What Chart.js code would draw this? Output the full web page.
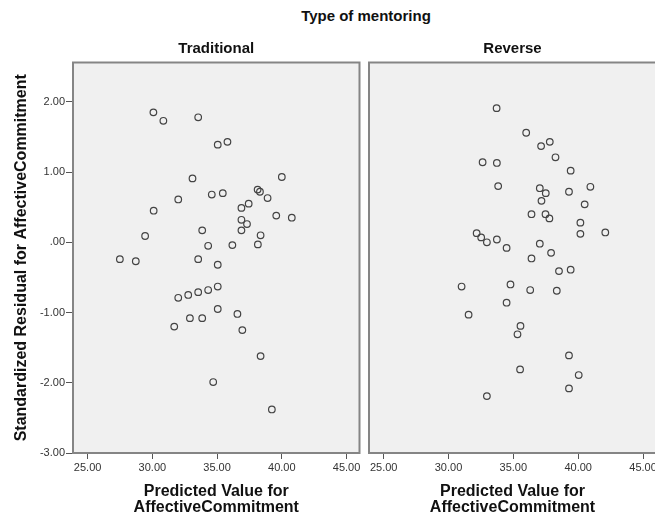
<!DOCTYPE html>
<html>
<head>
<meta charset="utf-8">
<script src="https://cdn.jsdelivr.net/npm/chart.js@4.4.1/dist/chart.umd.min.js"></script>
<style>
  html, body { margin: 0; padding: 0; background: #fff; overflow: hidden; }
  #wrap { position: relative; width: 655px; height: 517px; overflow: hidden; }
  #mainTitle {
    position: absolute; left: 0; width: 732px; top: 7px; text-align: center;
    font: bold 15px "Liberation Sans", Arial, sans-serif; color: #111;
  }
  #leftBox { position: absolute; left: 0; top: 0; width: 364px; height: 517px; }
  #rightBox { position: absolute; left: 362px; top: 0; width: 300px; height: 517px; }
</style>
</head>
<body>
<div id="wrap">
  <div id="mainTitle">Type of mentoring</div>
  <div id="leftBox"><canvas id="leftChart" width="364" height="517"></canvas></div>
  <div id="rightBox"><canvas id="rightChart" width="300" height="517"></canvas></div>
</div>
<script>
// ticks
const xTicks = [25, 30, 35, 40, 45];
const yTicks = [-3, -2, -1, 0, 1, 2];

// Traditional mentoring: predicted value / standardized residual
const tradX = [30.08, 30.85, 33.54, 35.05, 35.80, 33.10, 40.00, 32.00, 34.59, 35.44,
  38.13, 38.31, 38.90, 37.44, 36.88, 30.10, 39.57, 40.77, 36.88, 37.31,
  36.88, 33.85, 38.36, 29.44, 34.31, 36.18, 38.15, 27.49, 28.72, 33.54,
  35.05, 32.00, 32.77, 33.54, 34.31, 35.05, 35.05, 36.57, 32.90, 33.85,
  31.69, 36.95, 38.36, 34.70, 39.23];
const tradY = [1.85, 1.73, 1.78, 1.39, 1.43, 0.91, 0.93, 0.61, 0.68, 0.70,
  0.75, 0.72, 0.63, 0.55, 0.49, 0.45, 0.38, 0.35, 0.32, 0.26,
  0.17, 0.17, 0.10, 0.09, -0.05, -0.04, -0.03, -0.24, -0.27, -0.24,
  -0.32, -0.79, -0.75, -0.71, -0.68, -0.63, -0.95, -1.02, -1.08, -1.08,
  -1.20, -1.25, -1.62, -1.99, -2.38];

// Reverse mentoring
const revX = [33.71, 35.99, 37.14, 37.81, 38.25, 32.63, 33.73, 39.42, 33.83, 37.04,
  37.50, 37.17, 39.29, 40.94, 40.50, 36.40, 37.48, 37.78, 40.17, 32.17,
  32.52, 32.96, 33.73, 40.17, 42.09, 34.48, 37.04, 37.91, 36.40, 38.52,
  39.42, 31.01, 34.78, 36.30, 38.35, 34.48, 31.55, 35.55, 35.32, 39.29,
  35.52, 40.04, 39.29, 32.96];
const revY = [1.91, 1.56, 1.37, 1.43, 1.21, 1.14, 1.13, 1.02, 0.80, 0.77,
  0.70, 0.59, 0.72, 0.79, 0.54, 0.40, 0.40, 0.34, 0.28, 0.13,
  0.07, 0.00, 0.04, 0.12, 0.14, -0.08, -0.02, -0.15, -0.23, -0.41,
  -0.39, -0.63, -0.60, -0.68, -0.69, -0.86, -1.03, -1.19, -1.31, -1.61,
  -1.81, -1.89, -2.08, -2.19];

Chart.defaults.font.family = '"Liberation Sans", Arial, sans-serif';
Chart.defaults.color = '#333';

const toPoints = (xs, ys) => xs.map((x, i) => ({ x: x, y: ys[i] }));

// grey plot area with a frame, like the SPSS panels
const panelFrame = {
  id: 'panelFrame',
  beforeDatasetsDraw(chart) {
    const { ctx, chartArea: a } = chart;
    ctx.save();
    ctx.fillStyle = '#f0f0f0';
    ctx.fillRect(a.left, a.top, a.right - a.left, a.bottom - a.top);
    ctx.strokeStyle = '#858585';
    ctx.lineWidth = 2;
    ctx.strokeRect(a.left, a.top, a.right - a.left, a.bottom - a.top);
    ctx.restore();
  }
};

const makeChart = (canvasId, panelName, xs, ys, showY, pad) => {
  const config = {
    type: 'scatter',
    data: {
      datasets: [{
        data: toPoints(xs, ys),
        pointRadius: 3.3,
        pointHoverRadius: 3.3,
        borderWidth: 1.2,
        borderColor: '#444',
        backgroundColor: 'rgba(0,0,0,0)'
      }]
    },
    options: {
      responsive: false,
      animation: false,
      devicePixelRatio: 1,
      events: [],
      layout: { padding: pad },
      plugins: {
        legend: { display: false },
        tooltip: { enabled: false },
        title: {
          display: true,
          text: panelName,
          fullSize: false,
          color: '#111',
          font: { size: 15, weight: 'bold', lineHeight: 1 },
          padding: { top: 41.5, bottom: 6 }
        }
      },
      scales: {
        x: {
          type: 'linear',
          min: 23.87,
          max: 46.0,
          afterBuildTicks: (scale) => { scale.ticks = xTicks.map(v => ({ value: v })); },
          afterFit: (scale) => { scale.height = 64; },
          ticks: {
            padding: 2,
            color: '#333',
            font: { size: 11 },
            maxRotation: 0,
            callback: (v) => v.toFixed(2)
          },
          grid: { drawOnChartArea: false, drawTicks: true, tickLength: 6, color: '#555' },
          border: { display: false },
          title: {
            display: true,
            text: ['Predicted Value for', 'AffectiveCommitment'],
            color: '#111',
            font: { size: 16, weight: 'bold', lineHeight: 1 },
            padding: { top: 0, bottom: 1 }
          }
        },
        y: {
          type: 'linear',
          display: showY,
          min: -3,
          max: 2.56,
          afterBuildTicks: (scale) => { scale.ticks = yTicks.map(v => ({ value: v })); },
          afterFit: (scale) => { scale.width = showY ? 73 : 0; },
          ticks: {
            padding: 1,
            color: '#333',
            font: { size: 11 },
            callback: (v) => (v === 0 ? '.00' : v.toFixed(2))
          },
          grid: { drawOnChartArea: false, drawTicks: true, tickLength: 7, color: '#555' },
          border: { display: false },
          title: {
            display: true,
            text: 'Standardized Residual for AffectiveCommitment',
            color: '#111',
            font: { size: 16, weight: 'bold', lineHeight: 1 },
            padding: { top: 14, bottom: 0 }
          }
        }
      }
    },
    plugins: [panelFrame]
  };
  return new Chart(document.getElementById(canvasId), config);
};

makeChart('leftChart', 'Traditional', tradX, tradY, true, { left: 0, right: 4, top: 0, bottom: 0 });
makeChart('rightChart', 'Reverse', revX, revY, false, { left: 7, right: 6, top: 0, bottom: 0 });
</script>
</body>
</html>
